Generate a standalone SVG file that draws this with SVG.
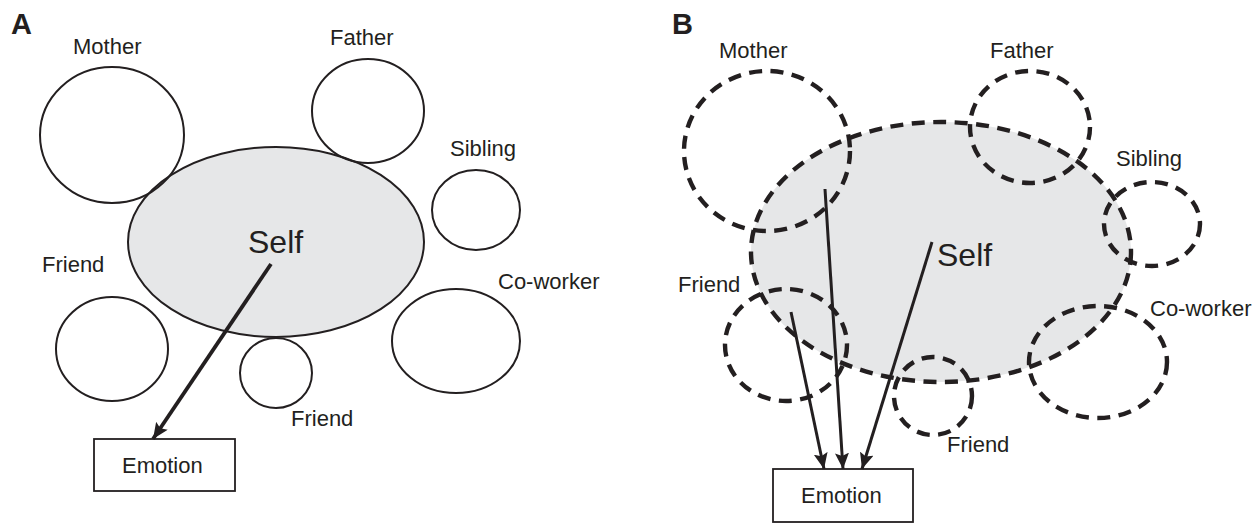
<svg xmlns="http://www.w3.org/2000/svg" width="1252" height="523" viewBox="0 0 1252 523">
  <style>
    text { font-family: "Liberation Sans", Arial, sans-serif; fill: #231f20; }
    .lbl { font-size: 22px; }
    .self { font-size: 32px; }
    .panel { font-size: 29px; font-weight: bold; }
    .solid { fill: none; stroke: #231f20; stroke-width: 2; }
    .dash { fill: none; stroke: #231f20; stroke-width: 4.4; stroke-dasharray: 13 8.5; }
    .selfA { fill: #e6e7e8; stroke: #231f20; stroke-width: 2; }
    .selfB { fill: #e6e7e8; stroke: #231f20; stroke-width: 4.4; stroke-dasharray: 13 8.5; }
    .box { fill: #ffffff; stroke: #231f20; stroke-width: 1.8; }
    .arrA { stroke: #231f20; stroke-width: 3.8; fill: none; }
    .arrB { stroke: #231f20; stroke-width: 3; fill: none; }
  </style>
  <defs>
    <marker id="ah" viewBox="0 0 16 14" refX="16" refY="7" markerWidth="16" markerHeight="14" markerUnits="userSpaceOnUse" orient="auto">
      <path d="M0,0 L16,7 L0,14 L3,7 Z" fill="#231f20"/>
    </marker>
  </defs>
  <rect width="1252" height="523" fill="#ffffff"/>

  <!-- Panel A -->
  <text class="panel" x="11" y="34">A</text>
  <g id="A-self">
    <ellipse class="selfA" cx="276" cy="242" rx="148" ry="95"/>
    <text class="self" x="248" y="253">Self</text>
  </g>
  <g id="A-mother">
    <ellipse class="solid" cx="112" cy="135" rx="72" ry="68"/>
    <text class="lbl" x="73" y="54">Mother</text>
  </g>
  <g id="A-father">
    <ellipse class="solid" cx="368" cy="111" rx="56" ry="52"/>
    <text class="lbl" x="330" y="45">Father</text>
  </g>
  <g id="A-sibling">
    <ellipse class="solid" cx="476" cy="210" rx="44" ry="40"/>
    <text class="lbl" x="450" y="156">Sibling</text>
  </g>
  <g id="A-friend1">
    <ellipse class="solid" cx="112" cy="349" rx="56" ry="52"/>
    <text class="lbl" x="42" y="272">Friend</text>
  </g>
  <g id="A-coworker">
    <ellipse class="solid" cx="456" cy="341" rx="64" ry="52"/>
    <text class="lbl" x="498" y="289">Co-worker</text>
  </g>
  <g id="A-friend2">
    <ellipse class="solid" cx="276" cy="373" rx="36" ry="35"/>
    <text class="lbl" x="291" y="426">Friend</text>
  </g>
  <g id="A-emotion">
    <rect class="box" x="94" y="439" width="141" height="52"/>
    <text class="lbl" x="122" y="473">Emotion</text>
  </g>
  <g id="A-connectors">
    <line class="arrA" x1="271" y1="264" x2="153" y2="439" marker-end="url(#ah)"/>
  </g>

  <!-- Panel B -->
  <text class="panel" x="672" y="34">B</text>
  <g id="B-self">
    <ellipse class="selfB" cx="941" cy="252" rx="190" ry="130"/>
    <text class="self" x="937" y="266">Self</text>
  </g>
  <g id="B-mother">
    <ellipse class="dash" cx="767" cy="151" rx="83" ry="80"/>
    <text class="lbl" x="719" y="58">Mother</text>
  </g>
  <g id="B-father">
    <ellipse class="dash" cx="1030" cy="127" rx="60" ry="56"/>
    <text class="lbl" x="990" y="58">Father</text>
  </g>
  <g id="B-sibling">
    <ellipse class="dash" cx="1152" cy="224" rx="48" ry="42"/>
    <text class="lbl" x="1116" y="166">Sibling</text>
  </g>
  <g id="B-friend1">
    <ellipse class="dash" cx="786" cy="345" rx="61" ry="56"/>
    <text class="lbl" x="678" y="292">Friend</text>
  </g>
  <g id="B-coworker">
    <ellipse class="dash" cx="1098" cy="362" rx="69" ry="56"/>
    <text class="lbl" x="1150" y="316">Co-worker</text>
  </g>
  <g id="B-friend2">
    <ellipse class="dash" cx="933" cy="396" rx="39" ry="39"/>
    <text class="lbl" x="947" y="452">Friend</text>
  </g>
  <g id="B-emotion">
    <rect class="box" x="773" y="469" width="140" height="53"/>
    <text class="lbl" x="801" y="503">Emotion</text>
  </g>
  <g id="B-connectors">
    <line class="arrB" x1="791" y1="312" x2="824" y2="469" marker-end="url(#ah)"/>
    <line class="arrB" x1="825" y1="189" x2="843" y2="469" marker-end="url(#ah)"/>
    <line class="arrB" x1="932" y1="242" x2="862" y2="469" marker-end="url(#ah)"/>
  </g>
</svg>
